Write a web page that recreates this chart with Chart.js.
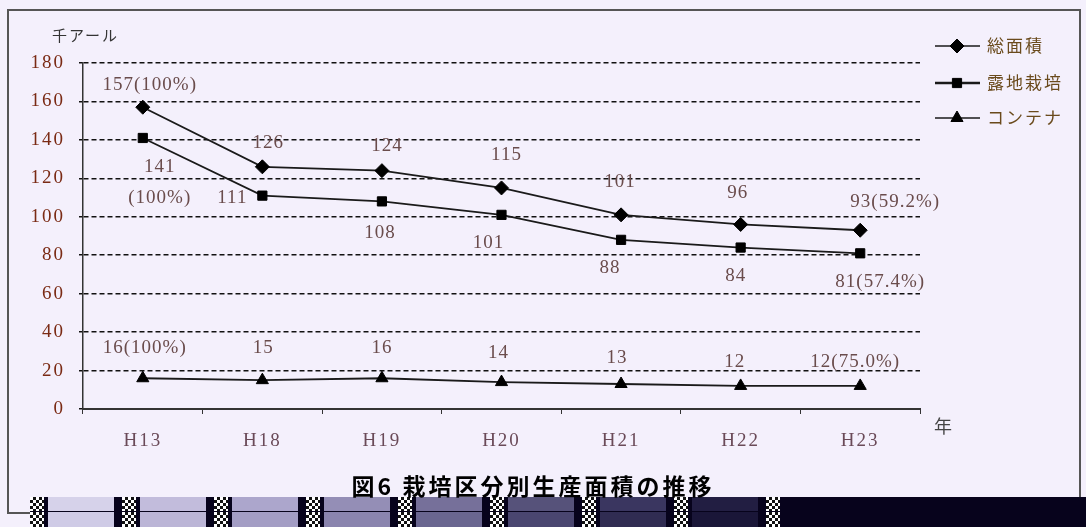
<!DOCTYPE html>
<html><head><meta charset="utf-8">
<script src="https://cdn.jsdelivr.net/npm/chart.js@4/dist/chart.umd.min.js"></script>
<style>
html,body{margin:0;padding:0;background:#f4f0fc;width:1086px;height:527px;overflow:hidden;position:relative;font-family:"Noto Sans CJK JP",sans-serif}
#frame{position:absolute;left:7px;top:9px;width:1074px;height:505px;border:2px solid #555;box-sizing:border-box}
#c{position:absolute;left:0;top:0}
#unit{position:absolute;left:52px;top:24px;font-size:15px;color:#333;font-family:"Noto Sans CJK JP";letter-spacing:2px}
#nen{position:absolute;left:934px;top:412px;font-size:18px;color:#444;font-family:"Noto Sans CJK JP"}
#title{position:absolute;left:0;width:1066px;top:470px;text-align:center;font-size:23px;font-weight:bold;color:#000;font-family:"Noto Sans CJK JP";letter-spacing:3px;line-height:30px}
#strip{position:absolute;left:30px;top:497px;width:1056px;height:30px;background:#07031c}
.row{position:absolute;left:0;height:14px;display:flex}
.blk{width:92px;height:100%;display:flex}
.chk{width:14px;height:100%;background:repeating-conic-gradient(#111 0 25%,#fff 0 50%) 0 0/6px 6px}
.fill{flex:1;margin-left:4px;margin-right:8px}
</style></head>
<body>
<div id="frame"></div>
<canvas id="c" width="1086" height="527"></canvas>
<div id="unit">千アール</div>
<div id="nen">年</div>
<div id="strip">
 <div class="row" id="r1" style="top:0"></div>
 <div class="row" id="r2" style="top:15px;height:15px"></div>
</div>
<div id="title">図6&nbsp;栽培区分別生産面積の推移</div>
<script>
// ---- data ----
const categories = ["H13","H18","H19","H20","H21","H22","H23"];
const seriesNames = ["総面積","露地栽培","コンテナ"];
const totalArea = [157,126,124,115,101,96,93];
const openField = [141,111,108,101,88,84,81];
const container = [16,15,16,14,13,12,12];
const totalPct = ["100%","","","","","","59.2%"];
const openPct = ["100%","","","","","","57.4%"];
const contPct = ["100%","","","","","","75.0%"];
const yTicks = [0,20,40,60,80,100,120,140,160,180];

// decorative strip
const c1=["#d6d2ea","#c2bcdc","#aca6cc","#948eb6","#76709a","#56527a","#3a3660","#221e42","#07031c"];
const c2=["#cfcbe6","#bbb5d6","#a39dc4","#8a84ae","#6a6690","#4a4670","#302c52","#1a1638","#07031c"];
function mk(id,cols){const r=document.getElementById(id);cols.forEach(c=>{const b=document.createElement('div');b.className='blk';b.innerHTML='<div class="chk"></div><div class="fill" style="background:'+c+'"></div>';r.appendChild(b);});}
mk('r1',c1);mk('r2',c2);

// label offsets (style)
const offs = [
 [[7,-22],[6,-24],[5,-25],[5,-33],[-1,-33],[-3,-31],[35,-28]],
 [[17,29],[-30,2],[-2,32],[-13,28],[-11,28],[-5,28],[20,29]],
 [[2,-30],[1,-32],[0,-30],[-3,-29],[-4,-26],[-6,-24],[-5,-24]]
];
const pcts=[totalPct,openPct,contPct];

const labelPlugin={id:'lbl',afterDatasetsDraw(chart){
  const ctx=chart.ctx;ctx.save();
  ctx.letterSpacing='1px';
  ctx.font='19px "Liberation Serif", serif';ctx.fillStyle='#6a4c4c';ctx.textAlign='center';ctx.textBaseline='middle';
  chart.data.datasets.forEach((ds,di)=>{
    const meta=chart.getDatasetMeta(di);
    meta.data.forEach((pt,i)=>{
      const v=ds.data[i];const p=pcts[di][i];
      const o=offs[di][i];
      if(di===1&&i===0){
        ctx.fillText(String(v),pt.x+o[0],pt.y+o[1]);
        ctx.fillText('('+p+')',pt.x+o[0],pt.y+o[1]+31);
      } else {
        ctx.fillText(p?v+'('+p+')':String(v),pt.x+o[0],pt.y+o[1]);
      }
    });
  });
  ctx.restore();
}};

const legendPlugin={id:'lg',afterDraw(chart){
  const ctx=chart.ctx;ctx.save();
  const ys=[46,83,118];
  chart.data.datasets.forEach((ds,di)=>{
    const y=ys[di];
    ctx.strokeStyle='#1a1a1a';ctx.lineWidth=di===1?2.5:1.5;
    ctx.beginPath();ctx.moveTo(935,y);ctx.lineTo(980,y);ctx.stroke();
    ctx.fillStyle='#000';ctx.strokeStyle='#000';ctx.lineWidth=1;
    Chart.helpers.drawPoint(ctx,{pointStyle:ds.pointStyle,radius:ds.pointRadius,rotation:0,borderWidth:1},957,y);
    ctx.letterSpacing='2px';
    ctx.font='17px "Noto Sans CJK JP", sans-serif';ctx.fillStyle='#6a4a1c';ctx.textAlign='left';ctx.textBaseline='middle';
    ctx.fillText(ds.label,987,y);
    ctx.letterSpacing='0px';
  });
  ctx.restore();
}};

const spacingPlugin={id:'sp',beforeDraw(chart){chart.ctx.letterSpacing='2px';},afterDraw(chart){chart.ctx.letterSpacing='0px';}};

const mkDs=(label,data,style,r,w)=>({label,data,borderColor:'#1a1a1a',backgroundColor:'#000',borderWidth:w,
  pointStyle:style,pointRadius:r,pointHoverRadius:r,pointBackgroundColor:'#000',pointBorderColor:'#000',pointBorderWidth:1,tension:0});

new Chart(document.getElementById('c'),{
  type:'line',
  data:{labels:categories,datasets:[
    mkDs(seriesNames[0],totalArea,'rectRot',7,1.8),
    mkDs(seriesNames[1],openField,'rect',6.5,1.8),
    mkDs(seriesNames[2],container,'triangle',7,1.8)
  ]},
  options:{responsive:false,animation:false,events:[],
    layout:{padding:{left:0,top:63,right:166,bottom:0}},
    plugins:{legend:{display:false},tooltip:{enabled:false},title:{display:false}},
    scales:{
      y:{min:0,max:180,afterFit(s){s.width=83;},
        afterBuildTicks(s){s.ticks=yTicks.map(v=>({value:v}));},
        border:{display:true,color:'#333',width:1.5,dash:[5,3]},
        grid:{color:'#111',lineWidth:1.5,tickLength:4,drawTicks:true,tickBorderDash:[5,3]},
        ticks:{padding:14,color:'#7a2a14',font:{family:'"Liberation Serif", serif',size:19}}
      },
      x:{afterFit(s){s.height=118;},offset:true,
        border:{display:true,color:'#333',width:2},
        grid:{drawOnChartArea:false,drawTicks:true,tickLength:5,color:'#333',offset:true},
        ticks:{padding:16,color:'#6a4a58',font:{family:'"Liberation Serif", serif',size:19}}
      }
    }
  },
  plugins:[spacingPlugin,labelPlugin,legendPlugin]
});
</script>
</body></html>
